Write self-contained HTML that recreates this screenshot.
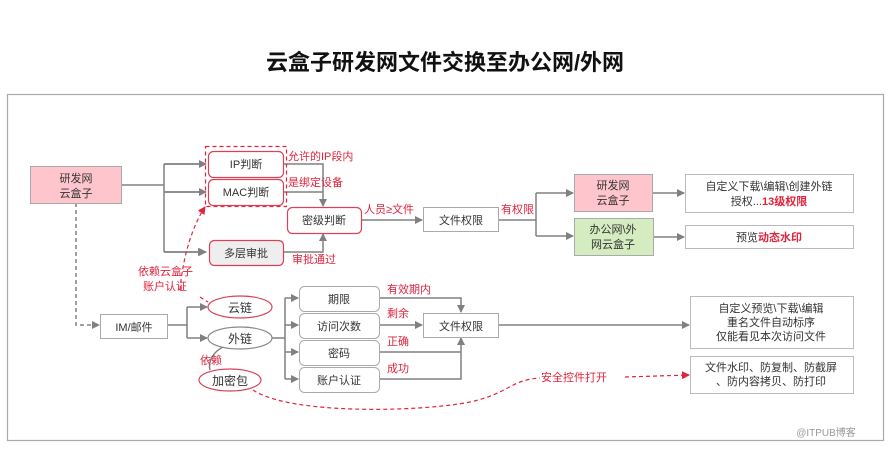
<!DOCTYPE html>
<html><head><meta charset="utf-8"><style>
body{margin:0;background:#fff}
svg text{font-family:"Liberation Sans","Noto Sans CJK SC",sans-serif}
</style></head><body>
<svg width="890" height="447" viewBox="0 0 890 447" xmlns="http://www.w3.org/2000/svg">
<defs>
<marker id="a" markerWidth="8" markerHeight="8" refX="7" refY="4" orient="auto" markerUnits="userSpaceOnUse"><path d="M0,0L8,4L0,8z" fill="#808080"/></marker>
<marker id="r" markerWidth="8" markerHeight="8" refX="7" refY="4" orient="auto" markerUnits="userSpaceOnUse"><path d="M0,0L8,4L0,8z" fill="#e0243c"/></marker>
</defs>
<text x="445" y="70" text-anchor="middle" font-size="22" font-weight="bold" fill="#111">云盒子研发网文件交换至办公网/外网</text>
<rect x="7.5" y="94.5" width="876" height="346" fill="none" stroke="#aaa" stroke-width="1.2"/>

<g stroke="#808080" stroke-width="1.5" fill="none">
<path d="M121 185H164M164 164V252M164 164H205M164 192H205M164 252H205" marker-end="url(#a)"/>
<path d="M164 164H206" marker-end="url(#a)"/><path d="M164 192H206" marker-end="url(#a)"/><path d="M164 252H206" marker-end="url(#a)"/>
<path d="M283 164H323V206" marker-end="url(#a)"/><path d="M283 192H323"/>
<path d="M283 252H323V234" marker-end="url(#a)"/>
<path d="M361 220H422" marker-end="url(#a)"/>
<path d="M498 220H536M536 193V236"/><path d="M536 193H573" marker-end="url(#a)"/><path d="M536 236H573" marker-end="url(#a)"/>
<path d="M652 193H684" marker-end="url(#a)"/><path d="M653 237H684" marker-end="url(#a)"/>
<path d="M76 203V325H99" stroke-dasharray="4,3" marker-end="url(#a)"/>
<path d="M167 325H187M187 307V338"/><path d="M187 307H207" marker-end="url(#a)"/><path d="M187 338H207" marker-end="url(#a)"/>
<path d="M272 338H285M285 298V379"/><path d="M285 298H298" marker-end="url(#a)"/><path d="M285 325H298" marker-end="url(#a)"/><path d="M285 352H298" marker-end="url(#a)"/><path d="M285 379H298" marker-end="url(#a)"/>
<path d="M379 298H461V312" marker-end="url(#a)"/>
<path d="M379 325H422" marker-end="url(#a)"/>
<path d="M379 352H461"/><path d="M379 379H461V338" marker-end="url(#a)"/>
<path d="M498 325H689" marker-end="url(#a)"/>
<path d="M225 346C212 352 208 362 210 370"/>
</g>
<g stroke="#e0243c" stroke-width="1.2" fill="none" stroke-dasharray="4,3">
<rect x="205.5" y="146.5" width="81" height="60"/>
<path d="M180 290C183 255 193 225 205 207" marker-end="url(#r)"/>
<path d="M253 390C290 415 420 412 470 402C510 393 510 380 540 378"/>
<path d="M625 377L689 375" marker-end="url(#r)"/>
<path d="M200 297L208 302"/>
</g>

<g font-size="11" text-anchor="middle" fill="#333">
<rect x="30.5" y="166.5" width="91" height="37" fill="#ffc5cd" stroke="#aaa"/>
<text x="76" y="182">研发网</text><text x="76" y="197">云盒子</text>
<rect x="208.5" y="151.5" width="75" height="26" rx="5" fill="#fff" stroke="#d9435a" stroke-width="1.2"/><text x="246" y="168">IP判断</text>
<rect x="208.5" y="179.5" width="75" height="26" rx="5" fill="#fff" stroke="#d9435a" stroke-width="1.2"/><text x="246" y="196">MAC判断</text>
<rect x="287.5" y="207.5" width="74" height="26" rx="5" fill="#fff" stroke="#d9435a" stroke-width="1.2"/><text x="324" y="224">密级判断</text>
<rect x="209.5" y="240.5" width="74" height="25" rx="5" fill="#eee" stroke="#d9435a" stroke-width="1.2"/><text x="246" y="257">多层审批</text>
<rect x="423.5" y="207.5" width="75" height="24" fill="#fff" stroke="#aaa"/><text x="461" y="224">文件权限</text>
<rect x="574.5" y="174.5" width="78" height="37" fill="#ffc5cd" stroke="#aaa"/><text x="613" y="189">研发网</text><text x="613" y="204">云盒子</text>
<rect x="574.5" y="218.5" width="79" height="37" fill="#d4ecc0" stroke="#aaa"/><text x="613" y="233">办公网\外</text><text x="613" y="248">网云盒子</text>
<rect x="685.5" y="174.5" width="168" height="38" fill="#fff" stroke="#bbb"/><text x="769" y="190">自定义下载\编辑\创建外链</text><text x="769" y="205">授权...<tspan fill="#e0243c" font-weight="bold">13级权限</tspan></text>
<rect x="685.5" y="225.5" width="168" height="23" fill="#fff" stroke="#bbb"/><text x="769" y="241">预览<tspan fill="#e0243c" font-weight="bold">动态水印</tspan></text>
<rect x="100.5" y="314.5" width="67" height="24" fill="#fff" stroke="#aaa"/><text x="134" y="331">IM/邮件</text>
<ellipse cx="240" cy="307" rx="32" ry="11" fill="#fff" stroke="#d9435a" stroke-width="1.2"/><text x="240" y="312" font-size="12">云链</text>
<ellipse cx="240" cy="338" rx="32" ry="11" fill="#fff" stroke="#888" stroke-width="1.2"/><text x="240" y="343" font-size="12">外链</text>
<ellipse cx="230" cy="380" rx="31" ry="11" fill="#fff" stroke="#d9435a" stroke-width="1.2"/><text x="230" y="385" font-size="12">加密包</text>
<rect x="299.5" y="286.5" width="80" height="25" rx="5" fill="#fff" stroke="#aaa"/><text x="339" y="303">期限</text>
<rect x="299.5" y="313.5" width="80" height="25" rx="5" fill="#fff" stroke="#aaa"/><text x="339" y="330">访问次数</text>
<rect x="299.5" y="340.5" width="80" height="25" rx="5" fill="#fff" stroke="#aaa"/><text x="339" y="357">密码</text>
<rect x="299.5" y="367.5" width="80" height="25" rx="5" fill="#fff" stroke="#aaa"/><text x="339" y="384">账户认证</text>
<rect x="423.5" y="313.5" width="75" height="24" fill="#fff" stroke="#aaa"/><text x="461" y="330">文件权限</text>
<rect x="690.5" y="296.5" width="163" height="52" fill="#fff" stroke="#bbb"/><text x="771" y="312">自定义预览\下载\编辑</text><text x="771" y="326">重名文件自动标序</text><text x="771" y="340">仅能看见本次访问文件</text>
<rect x="690.5" y="356.5" width="163" height="37" fill="#fff" stroke="#bbb"/><text x="771" y="371">文件水印、防复制、防截屏</text><text x="771" y="385">、防内容拷贝、防打印</text>
</g>
<g font-size="11" fill="#e0243c">
<text x="288" y="160">允许的IP段内</text>
<text x="288" y="186">是绑定设备</text>
<text x="364" y="213">人员≥文件</text>
<text x="501" y="213">有权限</text>
<text x="292" y="263">审批通过</text>
<text x="138" y="275">依赖云盒子</text><text x="143" y="290">账户认证</text>
<text x="387" y="293">有效期内</text>
<text x="387" y="317">剩余</text>
<text x="387" y="345">正确</text>
<text x="387" y="372">成功</text>
<text x="200" y="364">依赖</text>
<text x="541" y="381">安全控件打开</text>
</g>
<text x="826" y="436" font-size="10" fill="#999" text-anchor="middle">@ITPUB博客</text>
</svg>
</body></html>
